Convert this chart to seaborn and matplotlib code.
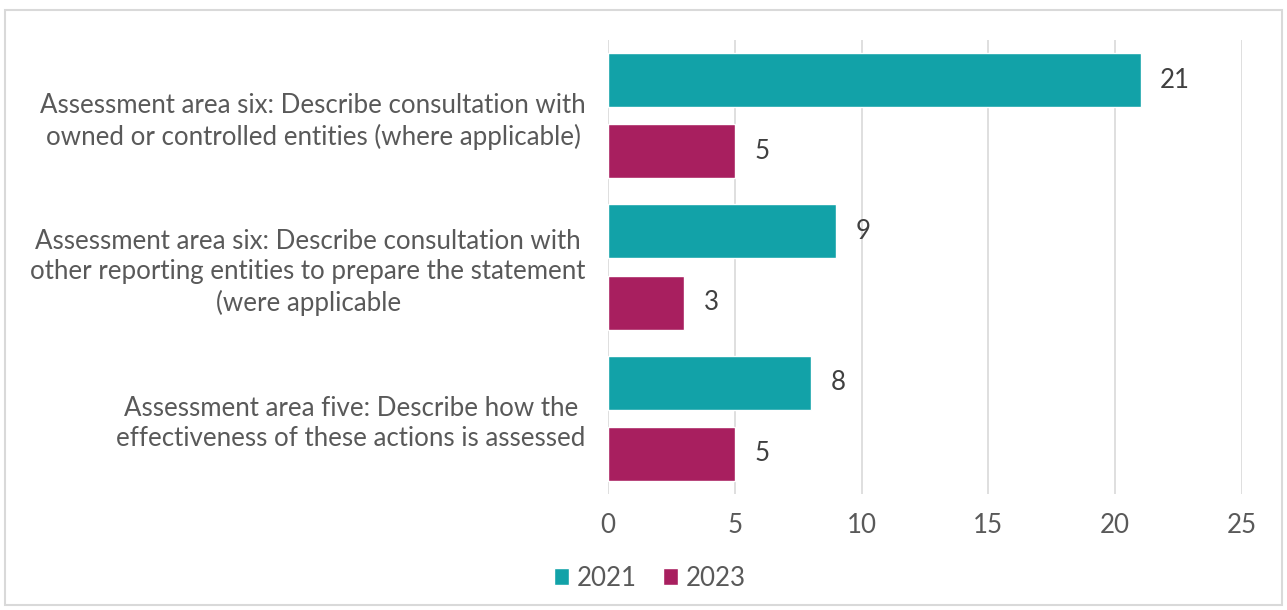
import matplotlib
matplotlib.use("Agg")
import matplotlib.pyplot as plt
import seaborn as sns
import pandas as pd
from matplotlib.patches import Rectangle

categories = [
    "Assessment area six: Describe consultation with\nowned or controlled entities (where applicable)",
    "Assessment area six: Describe consultation with\nother reporting entities to prepare the statement\n(were applicable",
    "Assessment area five: Describe how the\neffectiveness of these actions is assessed",
]
years = ["2021", "2023"]
values_2021 = [21, 9, 8]
values_2023 = [5, 3, 5]
x_ticks = [0, 5, 10, 15, 20, 25]

colors = {"2021": "#12A2A8", "2023": "#A81F5F"}
text_color = "#595959"
font_size = 18.6

df = pd.DataFrame({
    "category": categories * 2,
    "year": [years[0]] * 3 + [years[1]] * 3,
    "value": values_2021 + values_2023,
})

sns.set_theme(style="white")
plt.rcParams["font.family"] = ["Lato", "DejaVu Sans"]

fig = plt.figure(figsize=(12.87, 6.10), dpi=100)
ax = fig.add_axes([0.4724, 0.1902, 0.4926, 0.7442])

sns.barplot(data=df, y="category", x="value", hue="year", orient="h",
            palette=colors, width=0.94, gap=0.24, ax=ax, legend=True,
            saturation=1)

ax.set_xlim(0, 25)
ax.set_ylim(2.5, -0.5)
ax.set_xticks(x_ticks)
ax.set_xlabel("")
ax.set_ylabel("")
ax.grid(axis="x", color="#D9D9D9", linewidth=1.2)
ax.set_axisbelow(True)
for s in ax.spines.values():
    s.set_visible(False)
ax.tick_params(axis="both", length=0, labelsize=font_size, colors=text_color)
ax.tick_params(axis="x", pad=14)
ax.tick_params(axis="y", pad=16)
for lbl in ax.get_yticklabels():
    lbl.set_multialignment("center")
    lbl.set_linespacing(1.28)

for container in ax.containers:
    ax.bar_label(container, labels=[f"{v:g}" for v in container.datavalues],
                 padding=14, fontsize=font_size, color="#404040")

handles, labels = ax.get_legend_handles_labels()
ax.legend_.remove()
fig.legend(handles, labels, loc="center", bbox_to_anchor=(0.505, 0.052),
           ncol=2, frameon=False, fontsize=font_size, handlelength=0.6,
           handleheight=0.6, handletextpad=0.3, columnspacing=1.0,
           labelcolor=text_color)

fig.patches.append(Rectangle((5 / 1287, 5 / 610), 1277 / 1287, 595 / 610,
                             transform=fig.transFigure, fill=False,
                             edgecolor="#D9D9D9", linewidth=1.5))

fig.savefig("out.png", dpi=100)
